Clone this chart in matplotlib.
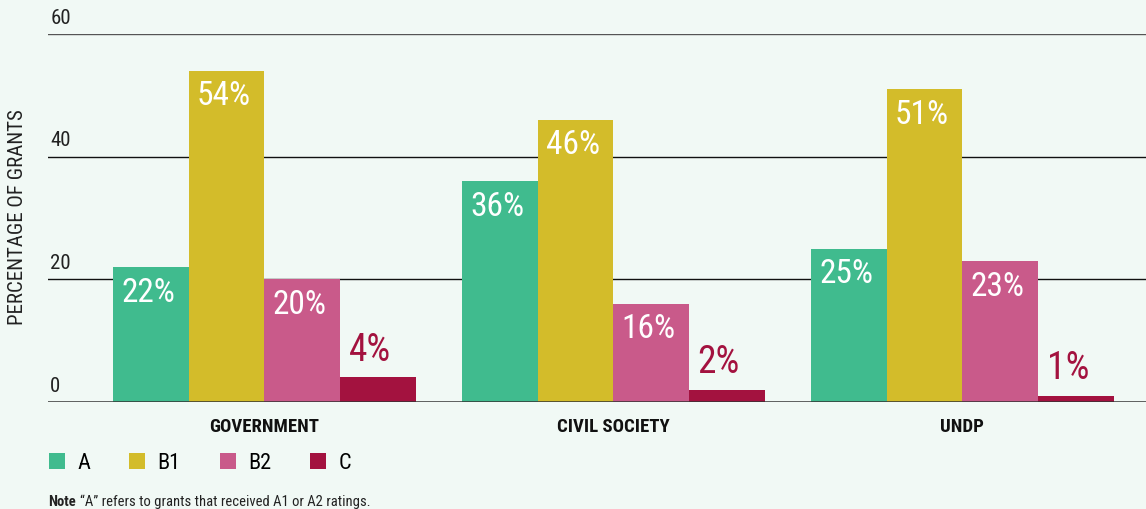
import matplotlib.pyplot as plt
import numpy as np
from matplotlib.patches import Patch
from matplotlib import font_manager

categories = ['GOVERNMENT', 'CIVIL SOCIETY', 'UNDP']
series = ['A', 'B1', 'B2', 'C']
values = {
    'A': [22, 36, 25],
    'B1': [54, 46, 51],
    'B2': [20, 16, 23],
    'C': [4, 2, 1],
}
colors = ['#40bb8e', '#d3bc2a', '#c95a8a', '#a3123f']
yticks = [0, 20, 40, 60]

# pick a condensed family if one is present
have = {f.name for f in font_manager.fontManager.ttflist}
cands = ['Roboto Condensed', 'Barlow Condensed', 'Archivo Narrow', 'PT Sans Narrow',
         'Liberation Sans Narrow']
fam = [c for c in cands if c in have][:1] + ['DejaVu Sans']
plt.rcParams['font.family'] = fam

bg = '#f1f9f5'
fig = plt.figure(figsize=(11.46, 5.10), dpi=100, facecolor=bg)
ax = fig.add_axes([48 / 1146, 1 - 403 / 510, 1 - 48 / 1146, (403 - 35) / 510])
ax.set_facecolor(bg)

x = np.arange(len(categories))
w = 0.217
for i, s in enumerate(series):
    xs = x + (i - 1.5) * w
    ax.bar(xs, values[s], width=w, color=colors[i], zorder=3)
    for xi, v in zip(xs, values[s]):
        if s == 'C':
            ax.text(xi - w / 2 + 0.024, v + 1.6, f'{v}%', color=colors[i],
                    fontsize=27, ha='left', va='bottom', zorder=4)
        else:
            ax.text(xi - w / 2 + 0.024, v - 1.4, f'{v}%', color='white',
                    fontsize=24, ha='left', va='top', zorder=4)

ax.set_xlim(-0.620, 2.526)
ax.set_ylim(0, 60)
for t in yticks:
    lw = 1.8 if t == 0 else 1.0
    col = {0: '#333333', 60: '#555555'}.get(t, '#111111')
    ax.axhline(t, color=col, lw=lw, zorder=2 if t else 5)
    ax.text(0.002, t + 1.2, str(t), transform=ax.get_yaxis_transform(),
            fontsize=15, color='#222222', ha='left', va='bottom')

ax.set_yticks([])
ax.set_xticks([])
for sp in ax.spines.values():
    sp.set_visible(False)

for xi, c in zip(x, categories):
    ax.text(xi, -2.5, c, ha='center', va='top', fontsize=13.5, fontweight='bold',
            color='#111111')

fig.text(18 / 1146, 1 - 217 / 510, 'PERCENTAGE OF GRANTS', rotation=90,
         ha='center', va='center', fontsize=15, color='#222222')

handles = [Patch(facecolor=c, label=s) for s, c in zip(series, colors)]
fig.legend(handles=handles, loc='center left', ncol=4, frameon=False,
           bbox_to_anchor=(49 / 1146, 1 - 464 / 510), fontsize=16,
           borderpad=0, borderaxespad=0,
           handlelength=0.73, handleheight=0.73, handletextpad=0.55,
           columnspacing=1.75)

fig.text(48 / 1146, 1 - 502 / 510, 'Note', fontsize=10.5, ha='left',
         va='center', fontweight='bold', color='#222222')
fig.text(80 / 1146, 1 - 502 / 510, '\u201cA\u201d refers to grants that received A1 or A2 ratings.',
         fontsize=10.5, ha='left', va='center', color='#222222')

fig.savefig('out.png', dpi=100, facecolor=bg)
